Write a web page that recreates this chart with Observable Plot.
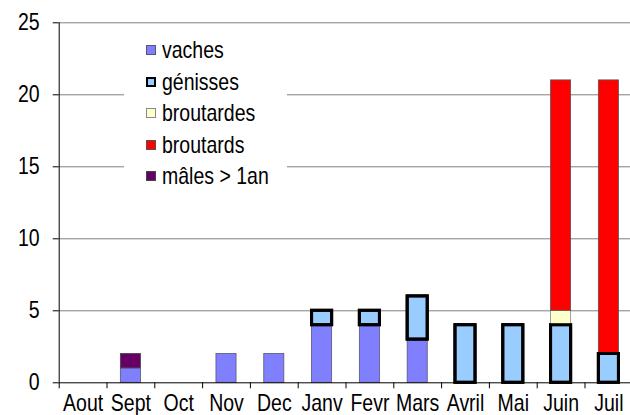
<!DOCTYPE html>
<html><head><meta charset="utf-8">
<script src="https://cdn.jsdelivr.net/npm/d3@7"></script>
<script src="https://cdn.jsdelivr.net/npm/@observablehq/plot@0.6"></script>
<style>
body{margin:0;background:#fff;font-family:"Liberation Sans",Arial,sans-serif;}
#wrap{position:relative;width:630px;height:415px;overflow:hidden;}
#legend{position:absolute;left:124px;top:33px;width:163px;height:158px;background:#fff;}
.item{position:absolute;left:0;height:30px;line-height:30px;font-size:19.5px;color:#000;white-space:nowrap;}
.sw{position:absolute;left:22px;top:10px;width:10px;height:10px;box-sizing:border-box;}
.lab{position:absolute;left:38px;top:0;transform:scaleY(1.2);transform-origin:50% 50%;}
</style></head><body>
<div id="wrap"></div>
<script>
const months = ["Aout","Sept","Oct","Nov","Dec","Janv","Fevr","Mars","Avril","Mai","Juin","Juil"];
const seriesNames = ["vaches","génisses","broutardes","broutards","mâles > 1an"];
const vaches     = [0,1,0,2,2,4,4,3,0,0,0,0];
const genisses   = [0,0,0,0,0,1,1,3,4,4,4,2];
const broutardes = [0,0,0,0,0,0,0,0,0,0,1,0];
const broutards  = [0,0,0,0,0,0,0,0,0,0,16,19];
const males      = [0,1,0,0,0,0,0,0,0,0,0,0];
const yTicks = [0,5,10,15,20,25];
const fills   = ["#8080FF","#99CCFF","#FFFFCC","#FF0000","#660066"];
const strokes = ["#555577","#000000","#888888","#555555","#444444"];
const widths  = [0.8,3,0.8,0.8,0.8];

const values = [vaches, genisses, broutardes, broutards, males];
const rows = [];
seriesNames.forEach((s, k) => {
  months.forEach((m, i) => {
    if (values[k][i] > 0) rows.push({month: m, series: s, value: values[k][i], fill: fills[k], stroke: strokes[k], sw: widths[k]});
  });
});

const x0 = 58.7, x1 = 632.3;
const step = (x1 - x0) / months.length;
const FONT = "'Liberation Sans', Arial, sans-serif";

const chart = Plot.plot({
  width: 630,
  height: 415,
  marginLeft: 58.7,
  marginRight: 0,
  marginTop: 22.3,
  marginBottom: 32.7,
  style: {fontSize: "19.5px", fontFamily: FONT, color: "#000", background: "#fff"},
  x: {domain: months, range: [x0, x1], paddingInner: 0.58, paddingOuter: 0.29, round: false, label: null},
  y: {domain: [0, 25], label: null},
  color: {type: "identity"},
  marks: [
    Plot.ruleY(yTicks.filter(d => d > 0), {stroke: "#808080", strokeWidth: 1}),
    Plot.barY(rows, Plot.stackY({x: "month", y: "value", z: "series", order: null, fill: "fill", stroke: "stroke", strokeWidth: "sw"})),
    Plot.barY(rows, Plot.stackY({x: "month", y: "value", z: "series", order: null, fill: "none", stroke: d => d.series === "génisses" ? "#000000" : "none", strokeWidth: 3})),
    Plot.ruleY([0], {stroke: "#000"}),
    Plot.ruleX([months[0]], {y1: 0, y2: 25, dx: -step / 2, stroke: "#000"}),
    Plot.axisX({tickSize: 6, text: null, dx: -step / 2, stroke: "#000"}),
    Plot.axisX({tickSize: 0, tickPadding: 13, fontSize: 19.5}),
    Plot.axisY({ticks: yTicks, tickSize: 6, tickPadding: 13.5, fontSize: 19.5, stroke: "#000"})
  ]
});
const wrap = document.getElementById("wrap");
wrap.appendChild(chart);

// stretch text vertically like the reference rendering
const svgNS = "http://www.w3.org/2000/svg";
chart.querySelectorAll("text").forEach(t => {
  const b = t.getBBox();
  let cx = b.x + b.width / 2, cy = b.y + b.height / 2;
  const tl = t.transform && t.transform.baseVal;
  const m = tl && tl.numberOfItems ? tl.consolidate() : null;
  if (m) { const p = new DOMPoint(cx, cy).matrixTransform(m.matrix); cx = p.x; cy = p.y; }
  const g = document.createElementNS(svgNS, "g");
  g.setAttribute("transform", `translate(${cx},${cy}) scale(1,1.2) translate(${-cx},${-cy})`);
  t.parentNode.insertBefore(g, t);
  g.appendChild(t);
});

const legend = document.createElement("div");
legend.id = "legend";
const centers = [50, 81.5, 113, 144.5, 176];
seriesNames.forEach((s, k) => {
  const it = document.createElement("div");
  it.className = "item";
  it.style.top = (centers[k] - 33 - 15) + "px";
  const sw = document.createElement("span");
  sw.className = "sw";
  sw.style.background = fills[k];
  sw.style.border = (k === 1 ? "2.5px solid #000" : "1px solid " + strokes[k]);
  const lab = document.createElement("span");
  lab.className = "lab";
  lab.textContent = s;
  it.appendChild(sw); it.appendChild(lab);
  legend.appendChild(it);
});
wrap.appendChild(legend);
</script>
</body></html>
